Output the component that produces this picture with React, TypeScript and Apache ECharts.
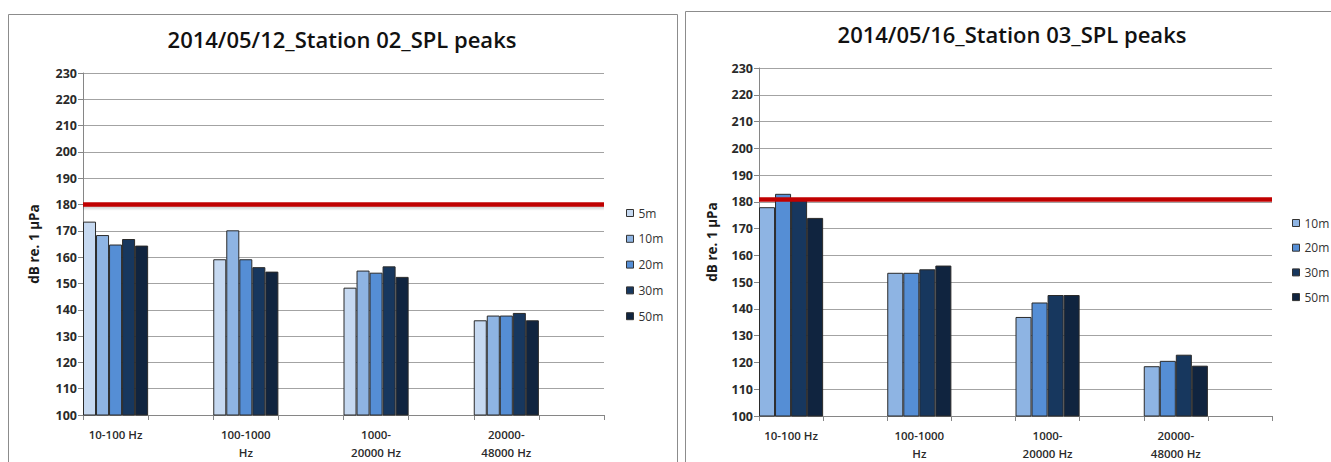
import React, { useEffect, useRef } from "react";
import * as echarts from "echarts";

// ---- data ----
const bandLabels = ["10-100 Hz", "100-1000\nHz", "1000-\n20000 Hz", "20000-\n48000 Hz"];

const leftTitle = "2014/05/12_Station 02_SPL peaks";
const rightTitle = "2014/05/16_Station 03_SPL peaks";
const yAxisTitle = "dB re. 1 µPa";

const leftSeriesNames = ["5m", "10m", "20m", "30m", "50m"];
const left5m = [173.5, 159.2, 148.4, 136.0];
const left10m = [168.4, 170.2, 154.9, 137.8];
const left20m = [164.8, 159.2, 154.1, 137.8];
const left30m = [166.9, 156.2, 156.5, 138.8];
const left50m = [164.4, 154.5, 152.5, 136.0];
const leftThreshold = 180;
const leftShadowBottom = 177.6;

const rightSeriesNames = ["10m", "20m", "30m", "50m"];
const right10m = [178.0, 153.5, 137.0, 118.6];
const right20m = [183.0, 153.5, 142.4, 120.6];
const right30m = [181.0, 154.8, 145.2, 122.9];
const right50m = [174.0, 156.2, 145.2, 118.8];
const rightThreshold = 181;

const yMin = 100;
const yMax = 230;
const yStep = 10;

const colors: Record<string, string> = {
  "5m": "#C6D9F1",
  "10m": "#8EB4E3",
  "20m": "#558ED5",
  "30m": "#17375E",
  "50m": "#10243F",
};

const FONT = "'Open Sans', 'Liberation Sans', sans-serif";

// each band is followed by an empty spacer category
const padCats = (labels: string[]) => labels.flatMap((l) => [l, ""]);
const padVals = (vals: number[]) => vals.flatMap((v) => [v, null]);

export default function App() {
  const ref = useRef<HTMLDivElement>(null);

  useEffect(() => {
    if (!ref.current) return;
    const chart = echarts.init(ref.current, null, { renderer: "svg" });

    const xAxisBase = {
      type: "category" as const,
      data: padCats(bandLabels),
      boundaryGap: true,
      axisLine: { lineStyle: { color: "#868686", width: 1 } },
      axisTick: { show: true, interval: 0, length: 5, lineStyle: { color: "#868686" } },
      axisLabel: {
        interval: 0,
        margin: 10,
        fontFamily: FONT,
        fontSize: 11.5,
        fontWeight: 600,
        color: "#2a2a2a",
        lineHeight: 18,
      },
      splitLine: { show: false },
    };

    const yAxisBase = (nameGap: number) => ({
      type: "value" as const,
      min: yMin,
      max: yMax,
      interval: yStep,
      name: yAxisTitle,
      nameLocation: "middle" as const,
      nameGap,
      nameTextStyle: { fontFamily: FONT, fontSize: 13.5, fontWeight: 700, color: "#1a1a1a" },
      axisLine: { show: true, lineStyle: { color: "#868686" } },
      axisTick: { show: true, length: 5, lineStyle: { color: "#868686" } },
      axisLabel: { margin: 6, fontFamily: FONT, fontSize: 12.5, fontWeight: 700, color: "#2a2a2a" },
      splitLine: { show: true, lineStyle: { color: "#a3a3a3", width: 1 } },
    });

    const markLineFor = (value: number) => ({
      silent: true,
      symbol: "none",
      label: { show: false },
      z: 10,
      lineStyle: { color: "#C00000", width: 4.5, type: "solid" as const },
      data: [{ yAxis: value }],
    });

    const shadowArea = (top: number, bottom: number) => ({
      silent: true,
      label: { show: false },
      itemStyle: {
        color: new echarts.graphic.LinearGradient(0, 0, 0, 1, [
          { offset: 0, color: "rgba(0,0,0,0.28)" },
          { offset: 1, color: "rgba(0,0,0,0)" },
        ]),
      },
      data: [[{ yAxis: top }, { yAxis: bottom }]],
    });

    const leftData = [left5m, left10m, left20m, left30m, left50m];
    const rightData = [right10m, right20m, right30m, right50m];

    const mkSeries = (name: string, vals: number[], axisIdx: number, extra?: object) => ({
      type: "bar" as const,
      name,
      xAxisIndex: axisIdx,
      yAxisIndex: axisIdx,
      data: padVals(vals),
      barGap: "0%",
      barCategoryGap: "0%",
      itemStyle: { color: colors[name], borderColor: "#2a2a2a", borderWidth: 1 },
      ...(extra || {}),
    });

    const series = [
      ...leftSeriesNames.map((n, i) =>
        mkSeries(
          n,
          leftData[i],
          0,
          i === 0
            ? { markLine: markLineFor(leftThreshold), markArea: shadowArea(leftThreshold, leftShadowBottom) }
            : undefined
        )
      ),
      ...rightSeriesNames.map((n, i) =>
        mkSeries(n, rightData[i], 1, i === 0 ? { markLine: markLineFor(rightThreshold) } : undefined)
      ),
    ];

    const legendBase = {
      orient: "vertical" as const,
      padding: 0,
      itemWidth: 7,
      itemHeight: 7,
      icon: "rect",
      selectedMode: false,
      itemStyle: { borderColor: "#333", borderWidth: 1 },
      textStyle: { fontFamily: FONT, fontSize: 12, color: "#333", lineHeight: 14 },
    };

    chart.setOption({
      animation: false,
      backgroundColor: "#ffffff",
      title: [
        {
          text: leftTitle,
          left: 342,
          top: 28,
          padding: 0,
          textAlign: "center",
          textStyle: { fontFamily: FONT, fontSize: 22, fontWeight: 600, color: "#111" },
        },
        {
          text: rightTitle,
          left: 1012,
          top: 23,
          padding: 0,
          textAlign: "center",
          textStyle: { fontFamily: FONT, fontSize: 22, fontWeight: 600, color: "#111" },
        },
      ],
      graphic: [
        {
          type: "rect",
          shape: { x: 8.5, y: 14.5, width: 669, height: 470 },
          style: { fill: "none", stroke: "#8c8c8c", lineWidth: 1 },
          silent: true,
        },
        {
          type: "rect",
          shape: { x: 685.5, y: 11.5, width: 670, height: 470 },
          style: { fill: "none", stroke: "#8c8c8c", lineWidth: 1 },
          silent: true,
        },
      ],
      legend: [
        { ...legendBase, data: leftSeriesNames, left: 626, top: 206, itemGap: 11.8 },
        { ...legendBase, data: rightSeriesNames, left: 1292, top: 216, itemGap: 10.7 },
      ],
      grid: [
        { left: 83, top: 73, width: 521, height: 342, containLabel: false },
        { left: 759, top: 68, width: 513, height: 348, containLabel: false },
      ],
      xAxis: [
        { ...xAxisBase, gridIndex: 0 },
        { ...xAxisBase, gridIndex: 1 },
      ],
      yAxis: [
        { ...yAxisBase(42), gridIndex: 0 },
        { ...yAxisBase(40), gridIndex: 1 },
      ],
      series,
    });

    return () => chart.dispose();
  }, []);

  return (
    <div
      ref={ref}
      style={{ position: "absolute", left: 0, top: 0, width: 1331, height: 462, background: "#fff" }}
    />
  );
}
